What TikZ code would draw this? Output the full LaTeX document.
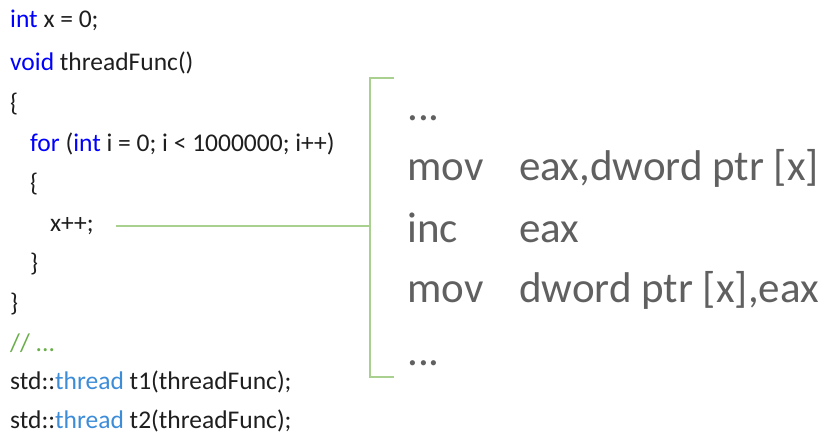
\documentclass[tikz,border=0pt]{standalone}
\usepackage{fontspec}
\setmainfont{Carlito}
\usetikzlibrary{positioning}
\definecolor{kwblue}{HTML}{0000FF}
\definecolor{typeblue}{HTML}{3C8CD8}
\definecolor{cmtgreen}{HTML}{6AAE4A}
\definecolor{codeblack}{HTML}{1E1E1E}
\definecolor{asmgray}{HTML}{606060}
\definecolor{brgreen}{HTML}{A9D08E}

\begin{document}
\begin{tikzpicture}[
    x=1pt, y=-1pt,
    code/.style={anchor=base west, inner sep=0pt, text=codeblack, font=\fontsize{25.5}{30}\selectfont},
    asm/.style={anchor=base west, inner sep=0pt, text=asmgray, font=\fontsize{43}{50}\selectfont},
    link/.style={brgreen, line width=2.5pt},
  ]
    \useasboundingbox (0,0) rectangle (826,437);

    % ===== C++ source =====
    \node[code] (l1)  at (10, 27)  {\textcolor{kwblue}{int} x = 0;};
    \node[code] (l2)  at (10, 70)  {\textcolor{kwblue}{void} threadFunc()};
    \node[code] (l3)  at (10, 111) {\{};
    \node[code] (l4)  at (30, 151) {\textcolor{kwblue}{for} (\textcolor{kwblue}{int} i = 0; i < 1000000; i++)};
    \node[code] (l5)  at (30, 191) {\{};
    \node[code] (inc) at (50, 231) {x++;};
    \node[code] (l7)  at (30, 271) {\}};
    \node[code] (l8)  at (10, 311) {\}};
    \node[code, text=cmtgreen] (l9) at (10, 351) {// ...};
    \node[code] (l10) at (10, 389) {std::\textcolor{typeblue}{thread} t1(threadFunc);};
    \node[code] (l11) at (10, 428) {std::\textcolor{typeblue}{thread} t2(threadFunc);};

    % ===== generated assembly =====
    \node[asm] (a0) at (407, 120) {...};
    \node[asm] (a1) at (407, 180) {mov};
    \node[asm] (a2) at (407, 242) {inc};
    \node[asm] (a3) at (407, 302) {mov};
    \node[asm] (a4) at (407, 365) {...};
    \node[asm] (b1) at (519, 180) {eax,dword ptr [x]};
    \node[asm] (b2) at (519, 242) {eax};
    \node[asm] (b3) at (519, 302) {dword ptr [x],eax};

    % ===== bracket and link =====
    \coordinate (brtop) at (394, 78);
    \coordinate (brbot) at (394, 377);
    \coordinate (brmid) at (370, 226);
    \draw[link] (brtop) -- (370, 78) -- (370, 377) -- (brbot);
    \draw[link] ([xshift=22pt, yshift=5pt]inc.base east) -- (brmid);

\end{tikzpicture}
\end{document}
